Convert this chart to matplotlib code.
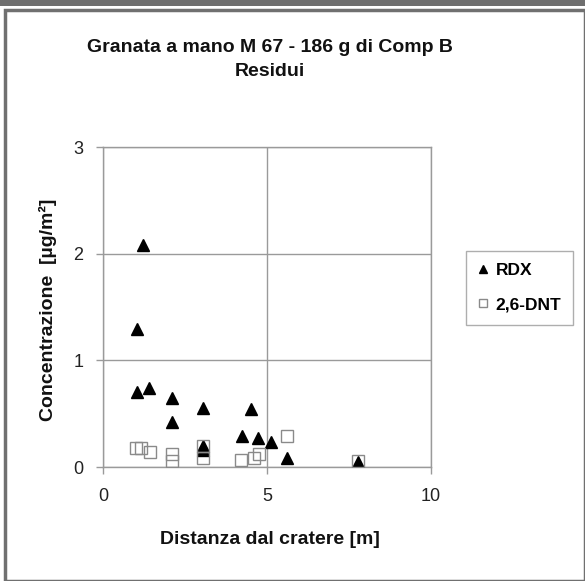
import matplotlib
matplotlib.use("Agg")
import matplotlib.pyplot as plt
from matplotlib.patches import Rectangle

plt.rcParams['font.family'] = ['Liberation Sans', 'DejaVu Sans']

title_lines = ["Granata a mano M 67 - 186 g di Comp B", "Residui"]
xlabel = "Distanza dal cratere [m]"
ylabel = "Concentrazione  [µg/m²]"

rdx_x = [1.22, 1.04, 1.04, 1.40, 2.11, 2.11, 3.05, 3.05, 3.05, 4.52, 4.24, 4.72, 5.13, 5.62, 7.77]
rdx_y = [2.08, 1.29, 0.70, 0.74, 0.65, 0.42, 0.55, 0.16, 0.20, 0.54, 0.29, 0.27, 0.23, 0.08, 0.05]

dnt_x = [1.00, 1.15, 1.42, 2.11, 2.11, 3.05, 3.05, 4.20, 4.60, 4.75, 5.62, 7.77]
dnt_y = [0.18, 0.18, 0.14, 0.12, 0.06, 0.20, 0.08, 0.07, 0.08, 0.12, 0.29, 0.06]

xticks = [0, 5, 10]
yticks = [0, 1, 2, 3]

fig = plt.figure(figsize=(5.85, 5.81), dpi=100)
W, H = 585, 581

# outer frames
fig.patches.append(Rectangle((0, (H - 6) / H), 1, 6 / H, transform=fig.transFigure,
                             facecolor='#6e6e6e', edgecolor='none'))
fig.patches.append(Rectangle((5 / W, 0), (W - 5) / W, (H - 10) / H, transform=fig.transFigure,
                             facecolor='none', edgecolor='#707070', linewidth=2.5))

ax = fig.add_axes([103 / W, (H - 467) / H, (431 - 103) / W, (467 - 147) / H])
ax.set_xlim(0, 10)
ax.set_ylim(0, 3)
ax.set_xticks(xticks)
ax.set_yticks(yticks)
ax.grid(True, color='#9a9a9a', linewidth=1.0)
for s in ax.spines.values():
    s.set_color('#9a9a9a')
    s.set_linewidth(1.0)
ax.tick_params(colors='#9a9a9a', labelcolor='#222222', labelsize=13, length=5, width=1.0, pad=10)
ax.tick_params(axis='y', pad=9)

ax.plot(rdx_x, rdx_y, linestyle='none', marker='^', markersize=9,
        color='black', label='RDX', zorder=3)
ax.plot(dnt_x, dnt_y, linestyle='none', marker='s', markersize=8,
        markerfacecolor='none', markeredgecolor='#8a8a8a', markeredgewidth=1.0,
        label='2,6-DNT', zorder=3)

fig.text(270 / W, 1 - 47 / H, title_lines[0], ha='center', va='center',
         fontsize=14, fontweight='bold', color='#111111')
fig.text(270 / W, 1 - 72 / H, title_lines[1], ha='center', va='center',
         fontsize=14, fontweight='bold', color='#111111')
fig.text(270 / W, 1 - 540 / H, xlabel, ha='center', va='center',
         fontsize=14, fontweight='bold', color='#111111')
fig.text(48 / W, 1 - 310 / H, ylabel, ha='center', va='center', rotation=90,
         fontsize=14, fontweight='bold', color='#111111')

leg = fig.legend(loc='upper left', bbox_to_anchor=(466 / W, 1 - 251 / H),
                 frameon=True, fancybox=False, prop={'weight': 'bold', 'size': 12.5},
                 handlelength=0.6, handletextpad=0.4, labelspacing=1.1, borderpad=0.7,
                 borderaxespad=0, markerscale=0.7)
leg.get_frame().set_edgecolor('#9a9a9a')
leg.get_frame().set_linewidth(1.0)

fig.savefig("out.png", dpi=100)
